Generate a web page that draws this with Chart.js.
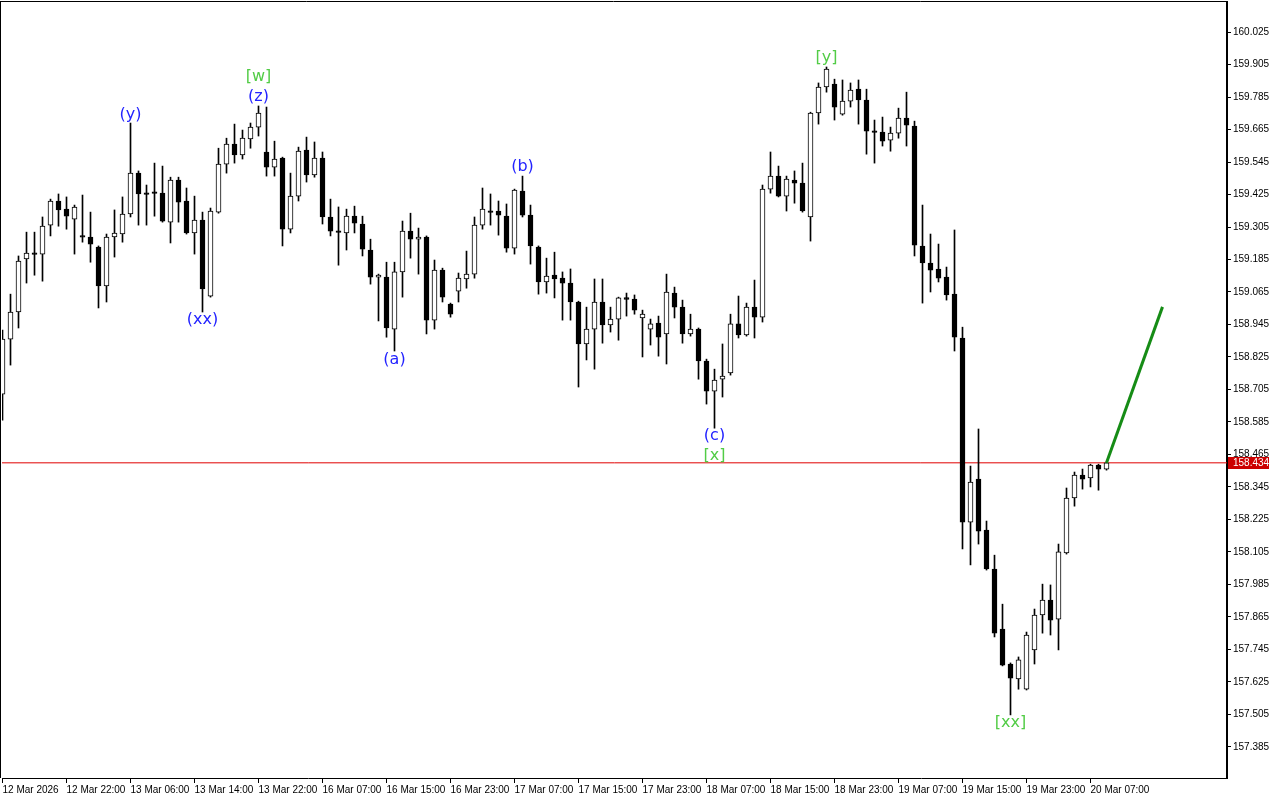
<!DOCTYPE html>
<html><head><meta charset="utf-8">
<script src="https://cdn.jsdelivr.net/npm/chart.js@4.4.1/dist/chart.umd.min.js"></script>
<style>html,body{margin:0;padding:0;background:#fff;}#wrap{width:1280px;height:800px;position:relative;}</style>
</head><body><div id="wrap"><canvas id="c" width="1280" height="800"></canvas></div>
<script>
// H1 candles, bar index 0 = 12 Mar 2026 14:00
const opens=[
158.688,158.891,158.991,159.187,159.209,159.205,159.312,159.401,159.371,159.334,
159.272,159.268,159.231,159.087,159.268,159.279,159.353,159.504,159.430,159.434,
159.430,159.323,159.478,159.401,159.283,159.331,159.050,159.360,159.537,159.611,
159.571,159.630,159.674,159.582,159.526,159.560,159.297,159.419,159.589,159.497,
159.560,159.342,159.290,159.283,159.345,159.316,159.220,159.120,159.120,158.928,
159.139,159.290,159.260,159.268,158.961,159.146,159.020,159.068,159.113,159.131,
159.312,159.364,159.364,159.345,159.227,159.438,159.349,159.231,159.102,159.127,
159.116,159.098,159.028,158.873,158.928,159.028,158.943,158.965,159.043,159.039,
158.969,158.928,158.950,158.910,159.061,159.009,158.910,158.928,158.810,158.699,
158.743,158.766,158.947,158.906,159.009,158.972,159.445,159.493,159.419,159.478,
159.467,159.342,159.726,159.822,159.833,159.722,159.770,159.814,159.774,159.659,
159.656,159.626,159.652,159.707,159.678,159.235,159.172,159.150,159.120,159.057,
158.895,158.215,158.374,158.186,158.042,157.820,157.691,157.636,157.598,157.743,
157.872,157.927,157.857,158.101,158.304,158.389,158.378,158.426,158.411];
const highs=[
158.924,159.057,159.198,159.286,159.286,159.342,159.408,159.427,159.416,159.386,
159.423,159.360,159.235,159.279,159.368,159.416,159.689,159.512,159.460,159.541,
159.530,159.489,159.489,159.449,159.419,159.360,159.375,159.596,159.633,159.685,
159.663,159.689,159.752,159.748,159.622,159.563,159.504,159.600,159.637,159.619,
159.582,159.408,159.379,159.371,159.382,159.345,159.260,159.131,159.175,159.175,
159.327,159.356,159.301,159.272,159.183,159.153,159.024,159.135,159.216,159.342,
159.449,159.427,159.401,159.390,159.445,159.493,159.386,159.235,159.190,159.212,
159.139,159.150,159.031,159.009,159.113,159.113,159.009,159.046,159.061,159.054,
158.998,158.965,158.976,159.131,159.083,159.035,158.983,158.932,158.817,158.780,
158.873,158.983,159.050,159.024,159.109,159.460,159.582,159.530,159.493,159.512,
159.541,159.729,159.837,159.896,159.851,159.848,159.837,159.848,159.814,159.700,
159.711,159.674,159.744,159.803,159.696,159.386,159.279,159.242,159.157,159.294,
158.935,158.422,158.559,158.219,158.093,157.912,157.695,157.717,157.809,157.894,
157.986,157.983,158.134,158.341,158.400,158.411,158.429,158.429,158.437];
const lows=[
158.592,158.795,158.932,159.098,159.127,159.105,159.272,159.308,159.297,159.205,
159.249,159.175,159.006,159.028,159.194,159.249,159.342,159.312,159.312,159.345,
159.323,159.246,159.323,159.279,159.205,158.991,159.046,159.356,159.504,159.541,
159.556,159.596,159.641,159.493,159.493,159.235,159.283,159.401,159.471,159.489,
159.316,159.272,159.164,159.220,159.283,159.198,159.094,158.958,158.898,158.847,
159.046,159.190,159.131,158.910,158.928,159.028,158.972,159.028,159.079,159.116,
159.297,159.312,159.275,159.212,159.205,159.342,159.168,159.057,159.061,159.043,
158.961,158.961,158.714,158.814,158.780,158.876,158.917,158.887,158.976,158.983,
158.825,158.869,158.828,158.799,158.969,158.876,158.902,158.743,158.651,158.562,
158.677,158.758,158.895,158.902,158.895,158.954,159.430,159.416,159.364,159.393,
159.360,159.253,159.685,159.803,159.700,159.718,159.748,159.685,159.574,159.541,
159.604,159.585,159.633,159.604,159.198,159.024,159.065,159.102,159.035,158.847,
158.116,158.057,158.134,158.038,157.791,157.684,157.503,157.598,157.595,157.691,
157.805,157.798,157.743,158.097,158.274,158.337,158.345,158.333,158.407];
const closes=[
158.891,158.991,159.179,159.209,159.205,159.308,159.401,159.368,159.345,159.379,
159.268,159.242,159.087,159.268,159.283,159.353,159.504,159.427,159.427,159.430,
159.327,159.478,159.397,159.283,159.331,159.076,159.364,159.537,159.611,159.571,
159.633,159.674,159.726,159.526,159.556,159.297,159.419,159.585,159.497,159.560,
159.342,159.290,159.286,159.345,159.319,159.223,159.120,159.127,158.932,159.139,
159.290,159.260,159.268,158.961,159.146,159.046,158.983,159.116,159.131,159.312,
159.371,159.360,159.349,159.227,159.441,159.349,159.235,159.102,159.124,159.113,
159.098,159.028,158.873,158.928,159.028,158.943,158.965,159.043,159.039,158.998,
158.983,158.947,158.898,159.065,159.009,158.910,158.928,158.810,158.699,158.740,
158.754,158.947,158.906,159.009,158.972,159.445,159.493,159.419,159.482,159.467,
159.364,159.726,159.822,159.888,159.748,159.770,159.811,159.774,159.659,159.656,
159.622,159.652,159.707,159.681,159.238,159.172,159.146,159.116,159.054,158.898,
158.215,158.363,158.182,158.042,157.805,157.687,157.639,157.706,157.798,157.872,
157.927,157.853,158.105,158.304,158.389,158.374,158.426,158.411,158.434];

const tickBars=[0,8,16,24,32,40,48,56,64,72,80,88,96,104,112,120,128,136];
const tickLabels=["12 Mar 2026","12 Mar 22:00","13 Mar 06:00","13 Mar 14:00","13 Mar 22:00","16 Mar 07:00","16 Mar 15:00","16 Mar 23:00","17 Mar 07:00","17 Mar 15:00","17 Mar 23:00","18 Mar 07:00","18 Mar 15:00","18 Mar 23:00","19 Mar 07:00","19 Mar 15:00","19 Mar 23:00","20 Mar 07:00"];
const priceTicks=[157.385,157.505,157.625,157.745,157.865,157.985,158.105,158.225,158.345,158.465,158.585,158.705,158.825,158.945,159.065,159.185,159.305,159.425,159.545,159.665,159.785,159.905,160.025];
const lastPrice=158.434;
const projBars=[138,145];
const projPrices=[158.434,159.010];
// wave labels, minor degree (blue)
const minorText=["(y)","(z)","(xx)","(a)","(b)","(c)"];
const minorBars=[16,32,25,49,65,89];
const minorPrices=[159.718,159.785,158.961,158.814,159.526,158.533];
// wave labels, intermediate degree (green)
const interText=["[w]","[x]","[y]","[xx]"];
const interBars=[32,89,103,126];
const interPrices=[159.859,158.459,159.929,157.473];

const xMin=-0.0625, xMax=153.0625;
const yMin=157.270, yMax=160.136;

const bodies=opens.map((o,i)=>{const c=closes[i];let lo=Math.min(o,c),hi=Math.max(o,c);if(hi-lo<0.006){const m=(hi+lo)/2;lo=m-0.003;hi=m+0.003;}return {x:i,y:[lo,hi]};});
const wicks=lows.map((l,i)=>({x:i,y:[l,highs[i]]}));
const bodyFill=opens.map((o,i)=>closes[i]>o?'#ffffff':'#000000');

const decor={
  id:'decor',
  beforeDraw(chart){const c=chart.ctx;c.save();c.fillStyle='#fff';c.fillRect(0,0,chart.width,chart.height);c.restore();},
  afterDatasetsDraw(chart){
    const c=chart.ctx,xs=chart.scales.x,ys=chart.scales.y;
    c.save();
    c.font='16px "DejaVu Sans"';c.textAlign='center';c.textBaseline='middle';
    c.fillStyle='#2323ff';
    minorText.forEach((t,i)=>c.fillText(t,xs.getPixelForValue(minorBars[i]),ys.getPixelForValue(minorPrices[i])));
    c.fillStyle='#52cc46';
    interText.forEach((t,i)=>c.fillText(t,xs.getPixelForValue(interBars[i]),ys.getPixelForValue(interPrices[i])));
    c.restore();
  },
  afterDraw(chart){
    const c=chart.ctx,a=chart.chartArea,ys=chart.scales.y;
    c.save();
    c.strokeStyle='#000';c.lineWidth=1;
    c.beginPath();c.moveTo(0,a.top-0.5);c.lineTo(a.right,a.top-0.5);c.moveTo(a.left-1.5,a.top);c.lineTo(a.left-1.5,a.bottom);c.stroke();
    const y=Math.round(ys.getPixelForValue(lastPrice));
    c.fillStyle='#cc0000';c.fillRect(a.right+1,y-6,41,12);
    c.fillStyle='#fff';c.font='10px "Liberation Sans"';c.textAlign='left';c.textBaseline='middle';
    c.fillText(lastPrice.toFixed(3),a.right+6,y+0.5);
    c.restore();
  }
};

new Chart(document.getElementById('c').getContext('2d'),{
  type:'bar',
  data:{datasets:[
    {type:'line',data:projBars.map((b,i)=>({x:b,y:projPrices[i]})),borderColor:'#168c16',borderWidth:3,pointRadius:0,order:0},
    {type:'bar',data:bodies,backgroundColor:bodyFill,borderColor:'#000',borderWidth:1,borderSkipped:false,barThickness:5,grouped:false,order:1},
    {type:'bar',data:wicks,backgroundColor:'#000',borderWidth:0,barThickness:1,grouped:false,order:2},
    {type:'line',data:[{x:xMin,y:lastPrice},{x:xMax,y:lastPrice}],borderColor:'#e00000',borderWidth:1,pointRadius:0,order:3}
  ]},
  options:{
    responsive:false,animation:false,events:[],
    layout:{padding:{left:2,top:2,right:0,bottom:0}},
    plugins:{legend:{display:false},tooltip:{enabled:false}},
    scales:{
      x:{type:'linear',min:xMin,max:xMax,offset:false,
        grid:{offset:false,drawOnChartArea:false,drawTicks:true,tickLength:5,color:'#000'},
        border:{display:true,color:'#000',width:1},
        ticks:{autoSkip:false,maxRotation:0,minRotation:0,align:'start',padding:1,color:'#000',font:{family:'Liberation Sans',size:10},callback:(v,i)=>tickLabels[i]},
        afterBuildTicks:s=>{s.ticks=tickBars.map(v=>({value:v}));},
        afterFit:s=>{s.height=22;s.paddingLeft=0;s.paddingRight=0;}},
      y:{type:'linear',position:'right',min:yMin,max:yMax,
        grid:{offset:false,drawOnChartArea:false,drawTicks:true,tickLength:4,color:'#000'},
        border:{display:true,color:'#000',width:2},
        ticks:{padding:2,color:'#000',font:{family:'Liberation Sans',size:10},callback:v=>Number(v).toFixed(3)},
        afterBuildTicks:s=>{s.ticks=priceTicks.map(v=>({value:v}));},
        afterFit:s=>{s.width=53;s.paddingTop=0;s.paddingBottom=0;}}
    }
  },
  plugins:[decor]
});
</script></body></html>
